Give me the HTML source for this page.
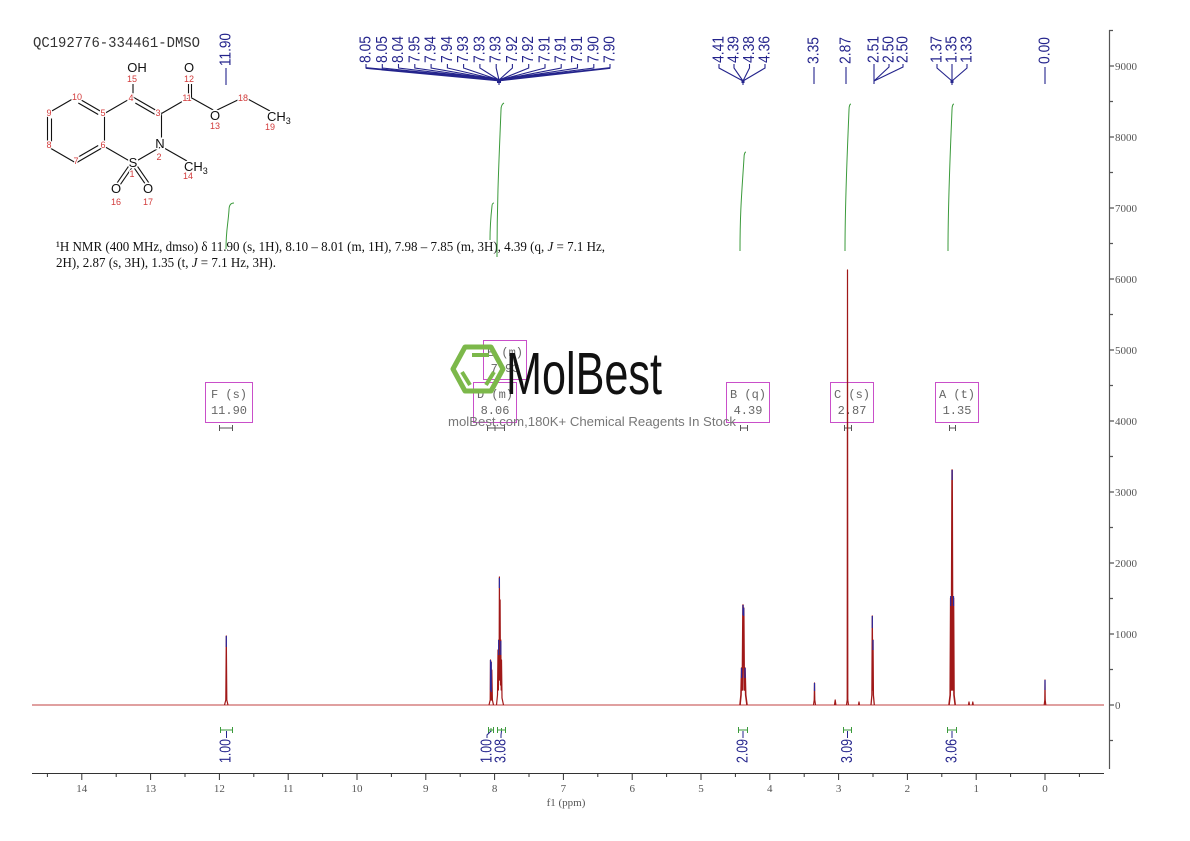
<!DOCTYPE html>
<html><head><meta charset="utf-8"><style>
html,body{margin:0;padding:0;background:#fff;}
svg{display:block;}
.lab{font-family:"Liberation Sans",sans-serif;font-size:16px;fill:#24248c;}
.tk{font-family:"Liberation Serif",serif;font-size:11px;fill:#555;}
.box{fill:none;stroke:#c94fc9;stroke-width:1;}
.bt{font-family:"Liberation Mono",monospace;font-size:12px;fill:#666;}
.num{font-family:"Liberation Sans",sans-serif;font-size:9px;fill:#d23b3b;stroke:#fff;stroke-width:2.5px;paint-order:stroke;}
.at{font-family:"Liberation Sans",sans-serif;font-size:13px;fill:#111;stroke:#fff;stroke-width:3px;paint-order:stroke;}
</style></head><body>
<svg width="1190" height="841" viewBox="0 0 1190 841" xmlns="http://www.w3.org/2000/svg">
<rect width="1190" height="841" fill="#fff"/>

<!-- Title -->
<text x="33" y="47" font-family="Liberation Mono, monospace" font-size="15" fill="#333" textLength="167" lengthAdjust="spacingAndGlyphs">QC192776-334461-DMSO</text>

<!-- Structure bonds -->
<g stroke="#111" stroke-width="1.1" fill="none">
<line x1="47.5" y1="113.5" x2="76" y2="97"/>
<line x1="76" y1="97" x2="104.5" y2="113.5"/>
<line x1="78.3" y1="103" x2="98.2" y2="114.5"/>
<line x1="104.5" y1="113.5" x2="104.5" y2="146.5"/>
<line x1="104.5" y1="146.5" x2="76" y2="163"/>
<line x1="98.2" y1="145.5" x2="78.3" y2="157"/>
<line x1="76" y1="163" x2="47.5" y2="146.5"/>
<line x1="47.5" y1="146.5" x2="47.5" y2="113.5"/>
<line x1="51.5" y1="118.5" x2="51.5" y2="141.5"/>
<line x1="104.5" y1="113.5" x2="133" y2="97"/>
<line x1="133" y1="97" x2="161.5" y2="113.5"/>
<line x1="135.3" y1="103" x2="155.2" y2="114.5"/>
<line x1="161.5" y1="113.5" x2="161.5" y2="146.5"/>
<line x1="161.5" y1="146.5" x2="133" y2="163"/>
<line x1="133" y1="163" x2="104.5" y2="146.5"/>
<line x1="133" y1="97" x2="133" y2="84"/>
<line x1="161.5" y1="113.5" x2="190" y2="97"/>
<line x1="188.5" y1="97" x2="188.5" y2="84"/>
<line x1="191.5" y1="97" x2="191.5" y2="84"/>
<line x1="190" y1="97" x2="215" y2="111"/>
<line x1="215" y1="111" x2="244" y2="97"/>
<line x1="244" y1="97" x2="270" y2="111"/>
<line x1="161.5" y1="146.5" x2="187" y2="161"/>
<line x1="131.5" y1="162" x2="117" y2="183"/>
<line x1="134.5" y1="164" x2="120" y2="185"/>
<line x1="131.5" y1="164" x2="146" y2="185"/>
<line x1="134.5" y1="162" x2="149" y2="183"/>
</g>
<!-- Structure atom labels -->
<text class="at" x="137" y="72" text-anchor="middle">OH</text>
<text class="num" x="132" y="82" text-anchor="middle">15</text>
<text class="at" x="189" y="72" text-anchor="middle">O</text>
<text class="num" x="189" y="82" text-anchor="middle">12</text>
<text class="at" x="215" y="120" text-anchor="middle">O</text>
<text class="num" x="215" y="129" text-anchor="middle">13</text>
<text class="at" x="267" y="121">CH<tspan font-size="9" dy="3">3</tspan></text>
<text class="num" x="270" y="130" text-anchor="middle">19</text>
<text class="at" x="160" y="148" text-anchor="middle">N</text>
<text class="num" x="159" y="160" text-anchor="middle">2</text>
<text class="at" x="184" y="171">CH<tspan font-size="9" dy="3">3</tspan></text>
<text class="num" x="188" y="179" text-anchor="middle">14</text>
<text class="at" x="133" y="167" text-anchor="middle">S</text>
<text class="num" x="132" y="177" text-anchor="middle">1</text>
<text class="at" x="116" y="193" text-anchor="middle">O</text>
<text class="num" x="116" y="205" text-anchor="middle">16</text>
<text class="at" x="148" y="193" text-anchor="middle">O</text>
<text class="num" x="148" y="205" text-anchor="middle">17</text>
<text class="num" x="77" y="100" text-anchor="middle">10</text>
<text class="num" x="49" y="116" text-anchor="middle">9</text>
<text class="num" x="49" y="148" text-anchor="middle">8</text>
<text class="num" x="76" y="164" text-anchor="middle">7</text>
<text class="num" x="103" y="148" text-anchor="middle">6</text>
<text class="num" x="103" y="116" text-anchor="middle">5</text>
<text class="num" x="131" y="101" text-anchor="middle">4</text>
<text class="num" x="158" y="116" text-anchor="middle">3</text>
<text class="num" x="187" y="101" text-anchor="middle">11</text>
<text class="num" x="243" y="101" text-anchor="middle">18</text>

<!-- NMR description -->
<text x="56" y="251" font-family="Liberation Serif, serif" font-size="14" fill="#111" textLength="549" lengthAdjust="spacingAndGlyphs">¹H NMR (400 MHz, dmso) δ 11.90 (s, 1H), 8.10 – 8.01 (m, 1H), 7.98 – 7.85 (m, 3H), 4.39 (q, <tspan font-style="italic">J</tspan> = 7.1 Hz,</text>
<text x="56" y="267" font-family="Liberation Serif, serif" font-size="14" fill="#111" textLength="220" lengthAdjust="spacingAndGlyphs">2H), 2.87 (s, 3H), 1.35 (t, <tspan font-style="italic">J</tspan> = 7.1 Hz, 3H).</text>

<!-- Integral curves (green) -->
<g stroke="#3b9a3b" stroke-width="1" fill="none">
<path d="M226,249 C226,230 228,225 229,210 C229,205 231,203 234,203"/>
<path d="M490,240 C490,225 491,215 492,206 C492,204 493,203 494,203"/>
<path d="M497,257 C497,200 499,160 501,110 C501,106 502,104 504,103"/>
<path d="M740,251 C740,210 742,190 744,158 C744,154 745,152 746,152"/>
<path d="M845,251 C845,200 847,160 849,110 C849,106 850,104 851,104"/>
<path d="M948,251 C948,200 950,160 952,110 C952,106 953,104 954,104"/>
</g>

<!-- Top peak labels -->
<g>
<text class="lab" transform="translate(226,66) rotate(-90)" dominant-baseline="central" textLength="33" lengthAdjust="spacingAndGlyphs">11.90</text>
<text class="lab" transform="translate(366,63) rotate(-90)" dominant-baseline="central" textLength="27" lengthAdjust="spacingAndGlyphs">8.05</text>
<text class="lab" transform="translate(382.3,63) rotate(-90)" dominant-baseline="central" textLength="27" lengthAdjust="spacingAndGlyphs">8.05</text>
<text class="lab" transform="translate(398.5,63) rotate(-90)" dominant-baseline="central" textLength="27" lengthAdjust="spacingAndGlyphs">8.04</text>
<text class="lab" transform="translate(414.8,63) rotate(-90)" dominant-baseline="central" textLength="27" lengthAdjust="spacingAndGlyphs">7.95</text>
<text class="lab" transform="translate(431.1,63) rotate(-90)" dominant-baseline="central" textLength="27" lengthAdjust="spacingAndGlyphs">7.94</text>
<text class="lab" transform="translate(447.4,63) rotate(-90)" dominant-baseline="central" textLength="27" lengthAdjust="spacingAndGlyphs">7.94</text>
<text class="lab" transform="translate(463.6,63) rotate(-90)" dominant-baseline="central" textLength="27" lengthAdjust="spacingAndGlyphs">7.93</text>
<text class="lab" transform="translate(479.9,63) rotate(-90)" dominant-baseline="central" textLength="27" lengthAdjust="spacingAndGlyphs">7.93</text>
<text class="lab" transform="translate(496.2,63) rotate(-90)" dominant-baseline="central" textLength="27" lengthAdjust="spacingAndGlyphs">7.93</text>
<text class="lab" transform="translate(512.4,63) rotate(-90)" dominant-baseline="central" textLength="27" lengthAdjust="spacingAndGlyphs">7.92</text>
<text class="lab" transform="translate(528.7,63) rotate(-90)" dominant-baseline="central" textLength="27" lengthAdjust="spacingAndGlyphs">7.92</text>
<text class="lab" transform="translate(545,63) rotate(-90)" dominant-baseline="central" textLength="27" lengthAdjust="spacingAndGlyphs">7.91</text>
<text class="lab" transform="translate(561.2,63) rotate(-90)" dominant-baseline="central" textLength="27" lengthAdjust="spacingAndGlyphs">7.91</text>
<text class="lab" transform="translate(577.5,63) rotate(-90)" dominant-baseline="central" textLength="27" lengthAdjust="spacingAndGlyphs">7.91</text>
<text class="lab" transform="translate(593.8,63) rotate(-90)" dominant-baseline="central" textLength="27" lengthAdjust="spacingAndGlyphs">7.90</text>
<text class="lab" transform="translate(610,63) rotate(-90)" dominant-baseline="central" textLength="27" lengthAdjust="spacingAndGlyphs">7.90</text>
<text class="lab" transform="translate(719,63) rotate(-90)" dominant-baseline="central" textLength="27" lengthAdjust="spacingAndGlyphs">4.41</text>
<text class="lab" transform="translate(734,63) rotate(-90)" dominant-baseline="central" textLength="27" lengthAdjust="spacingAndGlyphs">4.39</text>
<text class="lab" transform="translate(749.5,63) rotate(-90)" dominant-baseline="central" textLength="27" lengthAdjust="spacingAndGlyphs">4.38</text>
<text class="lab" transform="translate(765,63) rotate(-90)" dominant-baseline="central" textLength="27" lengthAdjust="spacingAndGlyphs">4.36</text>
<text class="lab" transform="translate(814,64) rotate(-90)" dominant-baseline="central" textLength="27" lengthAdjust="spacingAndGlyphs">3.35</text>
<text class="lab" transform="translate(846,64) rotate(-90)" dominant-baseline="central" textLength="27" lengthAdjust="spacingAndGlyphs">2.87</text>
<text class="lab" transform="translate(874,63) rotate(-90)" dominant-baseline="central" textLength="27" lengthAdjust="spacingAndGlyphs">2.51</text>
<text class="lab" transform="translate(889,63) rotate(-90)" dominant-baseline="central" textLength="27" lengthAdjust="spacingAndGlyphs">2.50</text>
<text class="lab" transform="translate(903,63) rotate(-90)" dominant-baseline="central" textLength="27" lengthAdjust="spacingAndGlyphs">2.50</text>
<text class="lab" transform="translate(937,63) rotate(-90)" dominant-baseline="central" textLength="27" lengthAdjust="spacingAndGlyphs">1.37</text>
<text class="lab" transform="translate(952,63) rotate(-90)" dominant-baseline="central" textLength="27" lengthAdjust="spacingAndGlyphs">1.35</text>
<text class="lab" transform="translate(967,63) rotate(-90)" dominant-baseline="central" textLength="27" lengthAdjust="spacingAndGlyphs">1.33</text>
<text class="lab" transform="translate(1045,64) rotate(-90)" dominant-baseline="central" textLength="27" lengthAdjust="spacingAndGlyphs">0.00</text>
</g>
<g stroke="#24248c" stroke-width="1.1" fill="none">
<path d="M226,68V85M814,67V84M846,67V84M1045,67V84"/>
<path d="M366,64V68L499,80M382.3,64V68L499,80M398.5,64V68L499,80M414.8,64V68L499,80M431.1,64V68L499,80M447.4,64V68L499,80M463.6,64V68L499,80M479.9,64V68L499,80M496.2,64V68L499,80M512.4,64V68L499,80M528.7,64V68L499,80M545,64V68L499,80M561.2,64V68L499,80M577.5,64V68L499,80M593.8,64V68L499,80M610,64V68L499,80"/>
<path d="M366,68L499,80.5M610,68L499,80.5" stroke-width="1.8"/>
<path d="M499,80V85"/>
<path d="M719,64V68L743,81M734,64V68L743,81M749.5,64V68L743,81M765,64V68L743,81M743,81V85"/>
<path d="M874,64V84M889,64V67L874,81M903,64V67L874,81"/>
<path d="M937,64V68L952,81M952,64V85M967,64V68L952,81"/>
</g>
<rect x="497" y="79" width="4" height="4" fill="#24248c"/>
<rect x="741.5" y="80" width="3" height="3" fill="#24248c"/>
<rect x="950.5" y="80" width="3" height="3" fill="#24248c"/>

<!-- Multiplet boxes -->
<g>
<rect class="box" x="205.5" y="382.5" width="47" height="40"/>
<text class="bt" x="229" y="398" text-anchor="middle">F (s)</text>
<text class="bt" x="229" y="414" text-anchor="middle">11.90</text>
<rect class="box" x="473.5" y="382.5" width="43" height="40"/>
<text class="bt" x="495" y="398" text-anchor="middle">D (m)</text>
<text class="bt" x="495" y="414" text-anchor="middle">8.06</text>
<rect class="box" x="483.5" y="340.5" width="43" height="39"/>
<text class="bt" x="505" y="356" text-anchor="middle">E (m)</text>
<text class="bt" x="505" y="372" text-anchor="middle">7.93</text>
<rect class="box" x="726.5" y="382.5" width="43" height="40"/>
<text class="bt" x="748" y="398" text-anchor="middle">B (q)</text>
<text class="bt" x="748" y="414" text-anchor="middle">4.39</text>
<rect class="box" x="830.5" y="382.5" width="43" height="40"/>
<text class="bt" x="852" y="398" text-anchor="middle">C (s)</text>
<text class="bt" x="852" y="414" text-anchor="middle">2.87</text>
<rect class="box" x="935.5" y="382.5" width="43" height="40"/>
<text class="bt" x="957" y="398" text-anchor="middle">A (t)</text>
<text class="bt" x="957" y="414" text-anchor="middle">1.35</text>
</g>
<g stroke="#555" stroke-width="1" fill="none">
<path d="M219,428H233M219.5,425V431M232.5,425V431"/>
<path d="M487,428H505M487.5,425V431M504.5,425V431M495,425V431"/>
<path d="M740,428H748M740.5,425V431M747.5,425V431"/>
<path d="M844,428H852M844.5,425V431M851.5,425V431"/>
<path d="M949,428H956M949.5,425V431M955.5,425V431"/>
</g>

<!-- Watermark -->
<g fill="none" stroke="#7cb84a" stroke-width="5" stroke-linejoin="round">
<polygon points="465,347 491,347 503,369 491,391 465,391 453,369"/>
<path d="M472,355H489" stroke-width="4"/>
<path d="M462,372L470,385" stroke-width="4"/>
<path d="M494,372L486,385" stroke-width="4"/>
</g>
<text x="506" y="394" font-family="Liberation Sans, sans-serif" font-size="59" fill="#111" textLength="156" lengthAdjust="spacingAndGlyphs">MolBest</text>
<text x="448" y="426" font-family="Liberation Sans, sans-serif" font-size="13" fill="#777" textLength="288" lengthAdjust="spacingAndGlyphs">molBest.com,180K+ Chemical Reagents In Stock</text>

<!-- Spectrum -->
<line x1="32" y1="705" x2="1104" y2="705" stroke="#c04040" stroke-width="1"/>
<g stroke="#a01818" stroke-width="1.2" fill="none" stroke-linejoin="round">
<path d="M224.5,705L225.8,700L226.3,636L226.8,700L228,705"/>
<path d="M489,705L490.2,700L490.5,660L490.9,700L491.2,662L491.5,700L491.8,670L492.4,700L493.5,705"/>
<path d="M496.5,705L497.5,695L498,650L498.4,690L498.7,640L499.1,680L499.4,577L499.8,680L500.1,600L500.5,685L500.8,640L501.2,690L501.5,660L502,698L503.5,705"/>
<path d="M740,705L741,695L741.6,668L742.3,690L743,605L743.3,650L743.7,608L744.3,690L745,668L745.7,695L747,705" stroke-width="1.6"/>
<path d="M813.5,705L814.2,700L814.5,683L814.8,700L815.5,705"/>
<path d="M834.5,705L835.2,700L835.9,705"/>
<path d="M846.5,705L847.2,700L847.5,270L847.8,700L848.5,705"/>
<path d="M858.5,705L859,702L859.5,705"/>
<path d="M871,705L871.9,695L872.3,616L872.7,690L873,640L873.4,695L874.3,705" stroke-width="1.3"/>
<path d="M949,705L950.2,695L950.7,598L951.3,690L952.1,470L952.8,690L953.5,598L954,695L955.2,705" stroke-width="1.6"/>
<path d="M968.5,705L969,702L969.5,705M972.3,705L972.8,702L973.3,705"/>
<path d="M1044.2,705L1044.8,700L1045,680L1045.2,700L1045.8,705"/>
</g>
<g stroke="#2a2aa0" stroke-width="1.2">
<path d="M226.3,636V647"/>
<path d="M490.5,660V690M491.2,662V692"/>
<path d="M499.4,578V588M498.7,640V655M500.8,641V655"/>
<path d="M743,605V615M743.7,608V616M741.6,668V678M745,668V678"/>
<path d="M814.5,683V691"/>
<path d="M872.3,616V628M873,640V650"/>
<path d="M952.1,470V480M950.7,596V606M953.5,596V606"/>
<path d="M1045,680V690"/>
</g>

<!-- Bottom integrals -->
<g stroke="#3b9a3b" stroke-width="1" fill="none">
<path d="M220,730H233M220.5,727V733M232.5,727V733"/>
<path d="M488,730H494M488.5,727V733M493.5,727V733"/>
<path d="M497,730H506M497.5,727V733M505.5,727V733"/>
<path d="M491,728V732M501.5,728V732"/>
<path d="M738,730H748M738.5,727V733M747.5,727V733"/>
<path d="M843,730H852M843.5,727V733M851.5,727V733"/>
<path d="M947,730H957M947.5,727V733M956.5,727V733"/>
</g>
<g stroke="#24248c" stroke-width="1" fill="none">
<path d="M226.5,731V738"/>
<path d="M491,731L487,735V738M501.5,731L501,735V738"/>
<path d="M743,731V738M847.5,731V738M952,731V738"/>
</g>
<g>
<text class="lab" transform="translate(226,763) rotate(-90)" dominant-baseline="central" textLength="24" lengthAdjust="spacingAndGlyphs">1.00</text>
<text class="lab" transform="translate(487,763) rotate(-90)" dominant-baseline="central" textLength="24" lengthAdjust="spacingAndGlyphs">1.00</text>
<text class="lab" transform="translate(501,763) rotate(-90)" dominant-baseline="central" textLength="24" lengthAdjust="spacingAndGlyphs">3.08</text>
<text class="lab" transform="translate(743,763) rotate(-90)" dominant-baseline="central" textLength="24" lengthAdjust="spacingAndGlyphs">2.09</text>
<text class="lab" transform="translate(847.5,763) rotate(-90)" dominant-baseline="central" textLength="24" lengthAdjust="spacingAndGlyphs">3.09</text>
<text class="lab" transform="translate(952,763) rotate(-90)" dominant-baseline="central" textLength="24" lengthAdjust="spacingAndGlyphs">3.06</text>
</g>

<!-- X axis -->
<g stroke="#333" stroke-width="1" fill="none">
<line x1="32" y1="773.5" x2="1104" y2="773.5"/>
<path d="M81.8,773V780M150.6,773V780M219.4,773V780M288.2,773V780M357,773V780M425.8,773V780M494.6,773V780M563.4,773V780M632.2,773V780M701,773V780M769.8,773V780M838.6,773V780M907.4,773V780M976.2,773V780M1045,773V780"/>
<path d="M47.4,773V777M116.2,773V777M185,773V777M253.8,773V777M322.6,773V777M391.4,773V777M460.2,773V777M529,773V777M597.8,773V777M666.6,773V777M735.4,773V777M804.2,773V777M873,773V777M941.8,773V777M1010.6,773V777M1079.4,773V777"/>
</g>
<g class="tk" text-anchor="middle">
<text x="81.8" y="792">14</text><text x="150.6" y="792">13</text><text x="219.4" y="792">12</text><text x="288.2" y="792">11</text><text x="357" y="792">10</text><text x="425.8" y="792">9</text><text x="494.6" y="792">8</text><text x="563.4" y="792">7</text><text x="632.2" y="792">6</text><text x="701" y="792">5</text><text x="769.8" y="792">4</text><text x="838.6" y="792">3</text><text x="907.4" y="792">2</text><text x="976.2" y="792">1</text><text x="1045" y="792">0</text>
</g>
<text x="566" y="806" class="tk" font-size="10" text-anchor="middle">f1 (ppm)</text>

<!-- Right Y axis -->
<g stroke="#555" stroke-width="1.2" fill="none">
<line x1="1109.5" y1="30" x2="1109.5" y2="769"/>
<path d="M1109,705H1114M1109,634H1114M1109,563H1114M1109,492H1114M1109,421H1114M1109,350H1114M1109,279H1114M1109,208H1114M1109,137H1114M1109,66H1114"/>
<path d="M1109,740.5H1113M1109,669.5H1113M1109,598.5H1113M1109,527.5H1113M1109,456.5H1113M1109,385.5H1113M1109,314.5H1113M1109,243.5H1113M1109,172.5H1113M1109,101.5H1113M1109,30.5H1113"/>
</g>
<g class="tk" font-size="10">
<text x="1115" y="709">0</text><text x="1115" y="638">1000</text><text x="1115" y="567">2000</text><text x="1115" y="496">3000</text><text x="1115" y="425">4000</text><text x="1115" y="354">5000</text><text x="1115" y="283">6000</text><text x="1115" y="212">7000</text><text x="1115" y="141">8000</text><text x="1115" y="70">9000</text>
</g>
</svg>
</body></html>
